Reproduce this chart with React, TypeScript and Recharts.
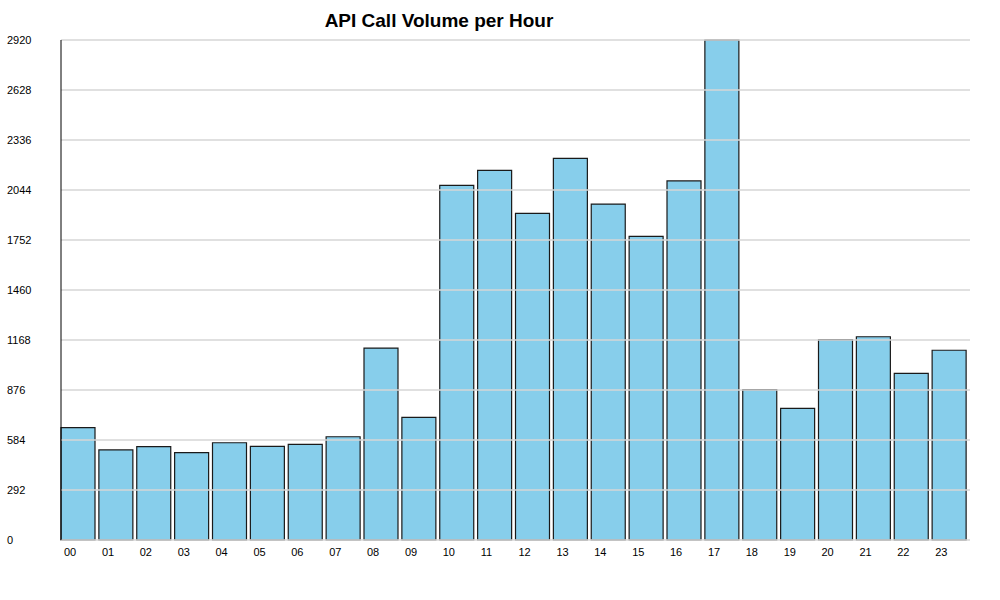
import React from 'react'
import { BarChart, Bar, XAxis, YAxis, ReferenceLine, Rectangle } from 'recharts'

const hours = ['00', '01', '02', '03', '04', '05', '06', '07', '08', '09', '10', '11',
  '12', '13', '14', '15', '16', '17', '18', '19', '20', '21', '22', '23']
const calls = [656, 526, 545, 510, 568, 547, 559, 603, 1121, 716, 2071, 2159,
  1908, 2229, 1962, 1773, 2097, 2920, 878, 769, 1170, 1187, 973, 1108]
const yTicks = [0, 292, 584, 876, 1168, 1460, 1752, 2044, 2336, 2628, 2920]

const data = hours.map((hour, i) => ({ hour, calls: calls[i] }))

const font = '"Liberation Sans", Arial, sans-serif'

const styles = {
  page: {
    position: 'absolute' as 'absolute',
    left: 0,
    top: 0,
    width: 1000,
    height: 600,
    background: '#fff',
    fontFamily: font
  },
  title: {
    position: 'absolute' as 'absolute',
    left: 0,
    top: 10,
    width: 878,
    textAlign: 'center' as 'center',
    fontSize: '19px',
    fontWeight: 'bold' as 'bold',
    color: '#000'
  }
}

const YTick = (props: any) => {
  const { y, payload } = props
  return (
    <text x={7} y={y} dy={4} fontSize={11} fill="#000" fontFamily={font} textAnchor="start">
      {payload.value}
    </text>
  )
}

const XTick = (props: any) => {
  const { x, y, payload } = props
  const band = 909 / 24
  return (
    <text x={x - band / 2 + 3} y={y} dy={8} fontSize={11} fill="#000" fontFamily={font} textAnchor="start">
      {payload.value}
    </text>
  )
}

// bars sit at the left of each band, not centred
const BarShape = (props: any) => <Rectangle {...props} x={props.x - 2} />

const App: React.FC = () => {
  return (
    <div style={styles.page}>
      <BarChart
        width={1000}
        height={600}
        data={data}
        margin={{ top: 40, right: 30, bottom: 0, left: 0 }}
        barSize={34}
      >
        <XAxis
          dataKey="hour"
          axisLine={false}
          tickLine={false}
          tick={<XTick />}
          interval={0}
          height={60}
        />
        <YAxis
          domain={[0, 2920]}
          ticks={yTicks}
          width={61}
          tickLine={false}
          axisLine={{ stroke: '#000', strokeWidth: 1 }}
          tick={<YTick />}
          interval={0}
        />
        <Bar
          dataKey="calls"
          fill="#87CEEB"
          stroke="#1a1a1a"
          strokeWidth={1.2}
          shape={<BarShape />}
          isAnimationActive={false}
        />
        {yTicks.map(t => (
          <ReferenceLine key={t} y={t} stroke="#d6d6d6" strokeWidth={1.5} />
        ))}
      </BarChart>
      <div style={styles.title}>API Call Volume per Hour</div>
    </div>
  )
}

export default App
